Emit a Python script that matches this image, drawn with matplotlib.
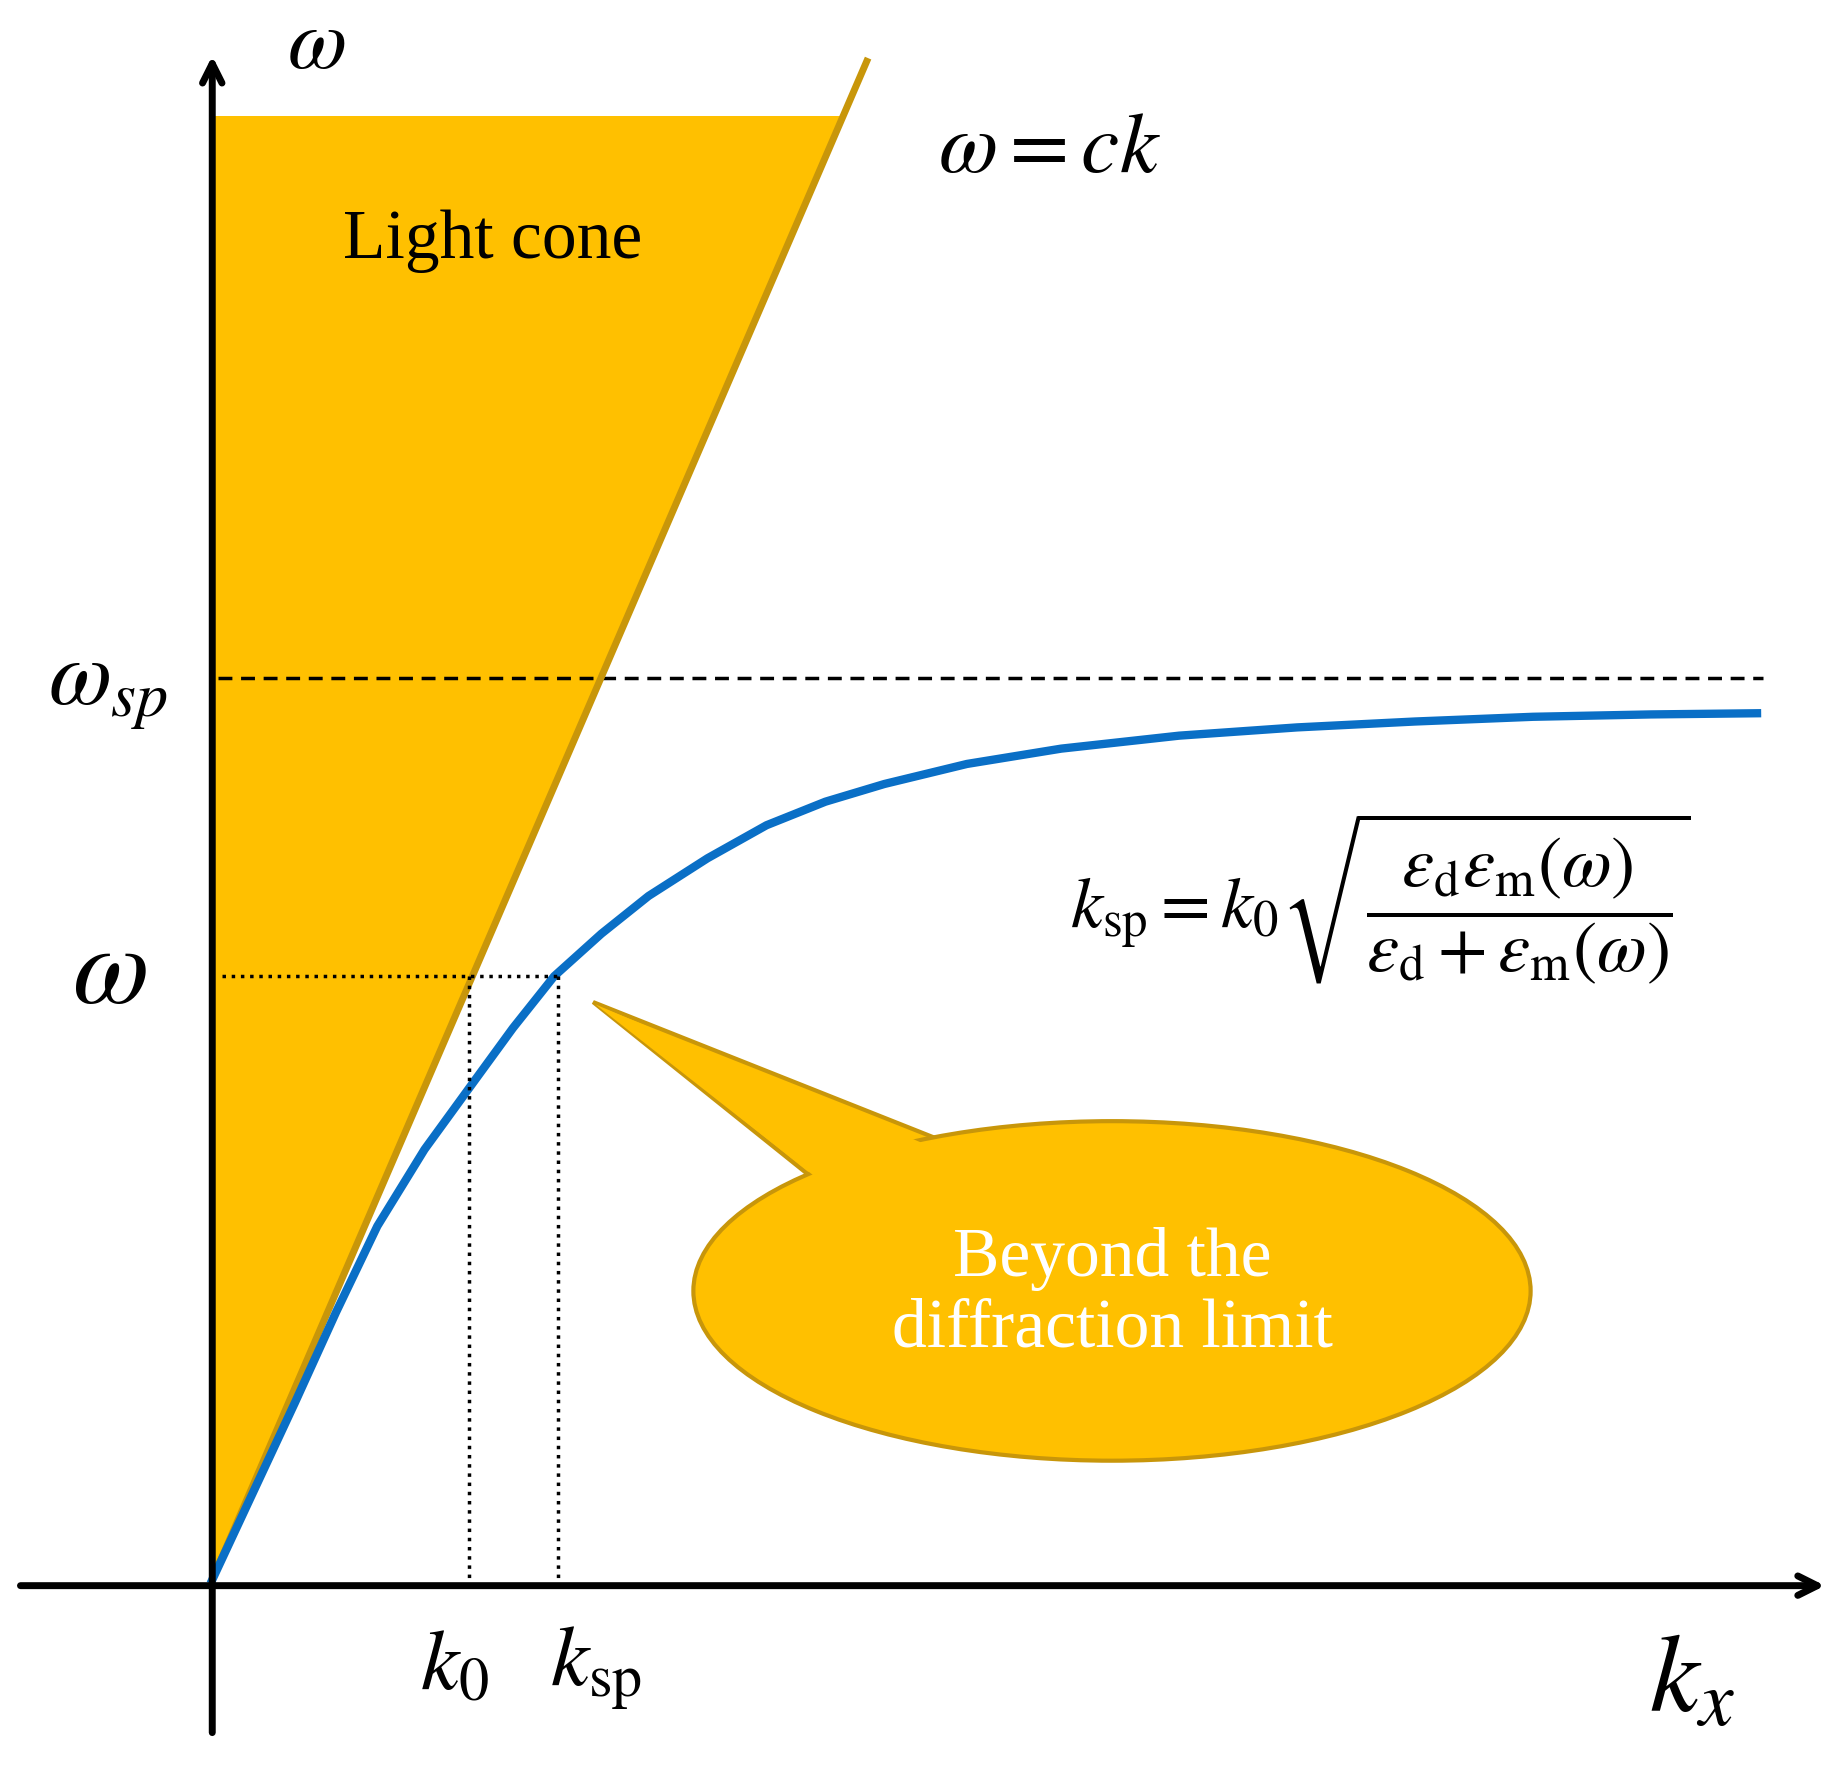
import matplotlib
matplotlib.use("Agg")
import matplotlib.pyplot as plt
from matplotlib.patches import Polygon, Ellipse
import numpy as np

plt.rcParams['mathtext.fontset'] = 'stix'
plt.rcParams['font.family'] = ['Liberation Serif', 'DejaVu Serif']

# dispersion curve (image units)
sp_k = [180, 215, 250, 285, 320, 360, 400, 435, 470, 510, 550, 600, 650, 700, 750, 820, 900, 1000, 1100, 1200, 1300, 1400, 1490]
sp_w = [1340, 1265, 1190, 1113, 1040, 975, 920, 872, 828, 792, 760, 728, 700, 680, 665, 648, 635, 624, 617, 612, 608, 606, 605]
light_k = [180, 735]
light_w = [1340, 52]
w_sp = 575
w_sel = 828
k0, ksp = 398, 473

fig = plt.figure(figsize=(18.49, 17.79), dpi=100)
ax = fig.add_axes([0, 0, 1, 1])
ax.set_xlim(0, 1568)
ax.set_ylim(1509, 0)
ax.axis('off')

gold = '#FFC000'
dgold = '#C8960A'
slope = (light_k[1]-light_k[0])/(light_w[0]-light_w[1])
xtop = light_k[0] + (light_w[0]-98)*slope
ax.add_patch(Polygon([(180, 1340), (180, 98), (xtop, 98)], closed=True, fc=gold, ec='none', zorder=1))
ax.plot(light_k, light_w, color=dgold, lw=5, zorder=3)

ax.plot(sp_k, sp_w, color='#0A6FC6', lw=6, zorder=4)
ax.plot([185, 1495], [w_sp, w_sp], 'k--', lw=2.5, dashes=(4, 2.5), zorder=2)
ax.plot([188, ksp], [w_sel, w_sel], 'k:', lw=2.5, zorder=5)
ax.plot([k0, k0], [w_sel, 1345], 'k:', lw=2.5, zorder=5)
ax.plot([ksp, ksp], [w_sel, 1345], 'k:', lw=2.5, zorder=5)

# axes arrows
ax.annotate('', xy=(180, 45), xytext=(180, 1472),
            arrowprops=dict(arrowstyle='->,head_length=1.4,head_width=0.7', lw=5, color='k'), zorder=6)
ax.annotate('', xy=(1550, 1345), xytext=(15, 1345),
            arrowprops=dict(arrowstyle='->,head_length=1.4,head_width=0.7', lw=5, color='k'), zorder=6)

# bubble
ax.add_patch(Polygon([(503, 850), (690, 1000), (800, 968)], closed=True, fc=gold, ec=dgold, lw=3, zorder=2))
ax.add_patch(Ellipse((943, 1095), 710, 288, fc=gold, ec=dgold, lw=3, zorder=2))
ax.add_patch(Polygon([(505, 852), (700, 1005), (795, 975)], closed=True, fc=gold, ec='none', zorder=3))
ax.text(943, 1098, 'Beyond the\ndiffraction limit', color='white', fontsize=50, ha='center', va='center',
        linespacing=1.15, zorder=4)

ax.text(418, 205, 'Light cone', fontsize=50, ha='center', va='center', zorder=4)
ax.text(890, 128, r'$\omega = ck$', fontsize=62, ha='center', va='center')
ax.text(268, 40, r'$\omega$', fontsize=62, ha='center', va='center')
ax.text(92, 585, r'$\omega_{sp}$', fontsize=66, ha='center', va='center')
ax.text(93, 828, r'$\omega$', fontsize=80, ha='center', va='center')
ax.text(385, 1415, r'$k_0$', fontsize=62, ha='center', va='center')
ax.text(505, 1415, r'$k_{\mathrm{sp}}$', fontsize=62, ha='center', va='center')
ax.text(1435, 1430, r'$k_x$', fontsize=80, ha='center', va='center')
ax.text(1170, 762, r'$k_{\mathrm{sp}} = k_0\sqrt{\dfrac{\varepsilon_{\mathrm{d}}\varepsilon_{\mathrm{m}}(\omega)}{\varepsilon_{\mathrm{d}}+\varepsilon_{\mathrm{m}}(\omega)}}$',
        fontsize=52, ha='center', va='center')

fig.savefig('out.png', dpi=100)
